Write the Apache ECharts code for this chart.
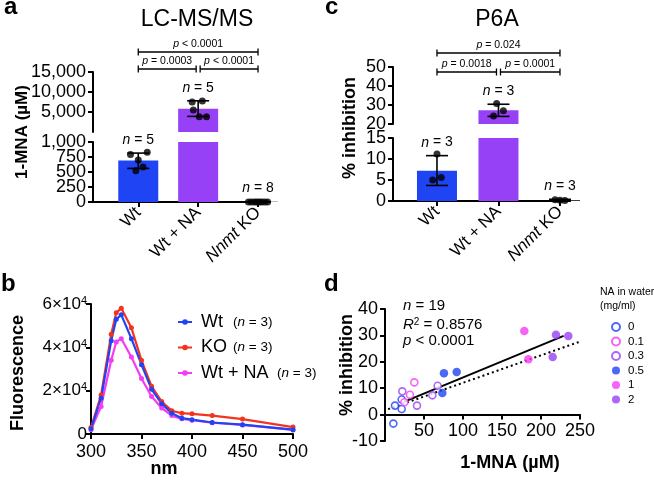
<!DOCTYPE html>
<html><head><meta charset="utf-8">
<script src="https://cdn.jsdelivr.net/npm/echarts@6/dist/echarts.min.js"></script>
<style>html,body{margin:0;padding:0;background:#fff}#c{width:654px;height:482px}</style>
</head><body><div id="c"></div>
<script>
// ---------------- DATA ----------------
const groups = ['Wt', 'Wt + NA', 'Nnmt KO'];
// Panel a : LC-MS/MS (1-MNA, µM)
const lcmsMean = [690, 5800, 5];
const lcmsErrLow = [560, 3900, 0];
const lcmsErrHigh = [815, 7800, 10];
const lcmsN = [5, 5, 8];
const lcmsWt = [790, 830, 585, 520, 700];
const lcmsWtNA = [7500, 7750, 5500, 3800, 3800];
const lcmsKO = [0, 0, 0, 0, 0, 0, 0, 0];
const lcmsP = ['p < 0.0001', 'p = 0.0003', 'p < 0.0001']; // 1-3, 1-2, 2-3
const lcmsLowTicks = [0, 250, 500, 750, 1000];
// Panel c : P6A (% inhibition)
const p6aMean = [7.2, 27.2, 0.2];
const p6aErrLow = [3.7, 24.0, 0.0];
const p6aErrHigh = [10.8, 30.4, 0.4];
const p6aN = [3, 3, 3];
const p6aWt = [11.2, 5.0, 5.6];
const p6aWtNA = [30.8, 27.0, 24.2];
const p6aKO = [0.3, 0.2, 0.1];
const p6aP = ['p = 0.024', 'p = 0.0018', 'p = 0.0001'];
// Panel b : fluorescence spectra
const wavelengths = [300, 310, 320, 325, 330, 340, 350, 360, 370, 380, 390, 400, 420, 450, 500];
const fluorWt = [2400, 16500, 43000, 53000, 55000, 44000, 32000, 20600, 14000, 9600, 7300, 6600, 5300, 4300, 2000];
const fluorKO = [3000, 18000, 46000, 56000, 58000, 49000, 34000, 22000, 15000, 10700, 9600, 9300, 8500, 6900, 3200];
const fluorWtNA = [2000, 12700, 34000, 42500, 44000, 35500, 25600, 17300, 12000, 8500, 7000, 6400, 5200, 4200, 1900];
const fluorNames = ['Wt', 'KO', 'Wt + NA'];
const fluorN = [3, 3, 3];
// Panel d : correlation
const naLevels = ['0', '0.1', '0.3', '0.5', '1', '2'];
const na0 = [[10.7, -3.4], [12.8, 3.4], [21.4, 2.1], [21.4, 5.7]];
const na01 = [[37.6, 12.2], [32.0, 7.5], [24.8, 4.7]];
const na03 = [[22.2, 8.8], [41.0, 3.4], [60.7, 7.3], [67.5, 10.9]];
const na05 = [[75.6, 15.7], [91.9, 16.1], [73.5, 8.2]];
const na1 = [[178.6, 31.7], [183.8, 21.0]];
const na2 = [[219.2, 30.2], [235.0, 29.8], [215.0, 21.8]];
const fitLine = [1.87, 0.122];   // intercept, slope
const fitRange = [25, 229];
const refLine = [1.65, 0.104];
const refRange = [4, 250];
const statN = 19, statR2 = '0.8576', statP = 'p < 0.0001';

// ---------------- STYLE ----------------
const FONT = '"Liberation Sans", Arial, Helvetica, sans-serif';
const BLUE = '#1f44f4', PURPLE = '#9741f6', MAGENTA = '#f43cf4', RED = '#f4331f';
const barColors = [BLUE, PURPLE, '#000'];
const naColors = [BLUE, MAGENTA, PURPLE, BLUE, MAGENTA, PURPLE];
const naHollow = [true, true, true, false, false, false];
const jitA = [[-0.13, 0.15, 0.08, -0.04, 0.0], [-0.1, 0.07, -0.08, 0.02, 0.14], [-0.16, -0.11, -0.06, -0.02, 0.02, 0.06, 0.11, 0.16]];
const jitC = [[0.0, -0.07, 0.07], [-0.03, 0.08, -0.08], [-0.08, 0.0, 0.08]];
const gridD = {left: 385, top: 309, width: 195, height: 132};
const dYMin = -10, dYMax = 40;

const chart = echarts.init(document.getElementById('c'));
const AX = {color: '#000', width: 2};
const groupsRich = groups.map(g => g.replace('Nnmt', '{it|Nnmt}'));
const LBL = {fontSize: 18, color: '#000', fontFamily: FONT, margin: 7, hideOverlap: false, showMinLabel: true, showMaxLabel: true};

function catX(gridIndex, min, max, show) {
  return {
    type: 'value', gridIndex, min, max, show,
    splitLine: {show: false},
    axisLine: {show: show, onZero: false, lineStyle: AX},
    axisTick: {show: show, customValues: [1, 2, 3], length: 5, lineStyle: AX},
    axisLabel: {
      show: show, customValues: [1, 2, 3], rotate: 45, margin: 8, fontSize: 17, color: '#000', fontFamily: FONT, hideOverlap: false,
      formatter: v => groupsRich[Math.round(v) - 1] || '',
      rich: {it: {fontStyle: 'italic', fontSize: 17, fontFamily: FONT}}
    }
  };
}
function valY(gridIndex, min, max, interval, lbl, tickVals, labelVals) {
  const ax = {
    type: 'value', gridIndex, min, max, interval, position: 'left',
    splitLine: {show: false},
    axisLine: {show: true, onZero: false, lineStyle: AX},
    axisTick: {show: true, length: 5, lineStyle: AX},
    axisLabel: Object.assign({}, LBL, lbl || {})
  };
  if (tickVals) ax.axisTick.customValues = tickVals;
  if (labelVals) ax.axisLabel.customValues = labelVals;
  return ax;
}
const comma = v => v.toLocaleString('en-US');

// build bar-panel series
function barPanel(upX, lowX, means, lo, hi, ns, pts, jit, brk) {
  const s = [];
  const barData = (upper) => means.map((m, i) => ({
    value: [i + 1, upper ? (m > brk ? m : null) : m],
    itemStyle: {color: barColors[i]}
  }));
  s.push({type: 'bar', xAxisIndex: upX, yAxisIndex: upX, data: barData(true), barWidth: 40, clip: true, silent: true});
  s.push({type: 'bar', xAxisIndex: lowX, yAxisIndex: lowX, data: barData(false), barWidth: 40, clip: true, silent: true});
  const errRender = (params, api) => {
    const x = api.value(0), l = api.value(1), h = api.value(2), n = api.value(3);
    const a = api.coord([x, l]), b = api.coord([x, h]);
    const w = 11, st = {stroke: '#000', lineWidth: 1.6};
    return {type: 'group', children: [
      {type: 'line', shape: {x1: a[0], y1: a[1], x2: b[0], y2: b[1]}, style: st},
      {type: 'line', shape: {x1: b[0] - w, y1: b[1], x2: b[0] + w, y2: b[1]}, style: st},
      {type: 'line', shape: {x1: a[0] - w, y1: a[1], x2: a[0] + w, y2: a[1]}, style: st},
      {type: 'text', style: {text: '{i|n} = ' + n, x: b[0], y: b[1] - 13, align: 'center', verticalAlign: 'middle',
        font: '14px ' + FONT, fill: '#000', rich: {i: {fontStyle: 'italic', fontSize: 14, fontFamily: FONT}}}}
    ]};
  };
  [true, false].forEach(upper => {
    const d = means.map((m, i) => (hi[i] > brk) === upper ? [i + 1, lo[i], hi[i], ns[i]] : null).filter(Boolean);
    const ax = upper ? upX : lowX;
    s.push({type: 'custom', xAxisIndex: ax, yAxisIndex: ax, renderItem: errRender, data: d, clip: false, z: 5, silent: true});
    const sd = [];
    pts.forEach((arr, i) => arr.forEach((v, k) => { if ((v > brk) === upper) sd.push([i + 1 + jit[i][k], v]); }));
    s.push({type: 'scatter', xAxisIndex: ax, yAxisIndex: ax, data: sd, symbolSize: 7, itemStyle: {color: '#000'}, z: 6, clip: false, silent: true});
  });
  return s;
}

const series = [];
series.push(...barPanel(0, 1, lcmsMean, lcmsErrLow, lcmsErrHigh, lcmsN, [lcmsWt, lcmsWtNA, lcmsKO], jitA, 1000));
series.push(...barPanel(2, 3, p6aMean, p6aErrLow, p6aErrHigh, p6aN, [p6aWt, p6aWtNA, p6aKO], jitC, 15));

// Panel b lines (draw order: KO, Wt+NA, Wt)
const fl = {Wt: [fluorWt, BLUE], KO: [fluorKO, RED], 'Wt + NA': [fluorWtNA, MAGENTA]};
['KO', 'Wt + NA', 'Wt'].forEach(nm => {
  series.push({type: 'line', name: nm, xAxisIndex: 4, yAxisIndex: 4,
    data: wavelengths.map((w, i) => [w, fl[nm][0][i]]),
    symbol: 'circle', symbolSize: 5, showSymbol: true,
    lineStyle: {width: 2.2, color: fl[nm][1]}, itemStyle: {color: fl[nm][1]}, silent: true});
});

// Panel d
series.push({type: 'line', name: 'fit', xAxisIndex: 5, yAxisIndex: 5, symbol: 'none', silent: true, z: 1,
  data: fitRange.map(x => [x, fitLine[0] + fitLine[1] * x]), lineStyle: {color: '#000', width: 2}});
series.push({type: 'line', name: 'ref', xAxisIndex: 5, yAxisIndex: 5, symbol: 'none', silent: true, z: 1,
  data: refRange.map(x => [x, refLine[0] + refLine[1] * x]), lineStyle: {color: '#000', width: 2, type: [2, 3]}});
[na0, na01, na03, na05, na1, na2].forEach((d, i) => {
  series.push({type: 'scatter', name: naLevels[i], xAxisIndex: 5, yAxisIndex: 5, data: d, symbol: 'circle',
    symbolSize: naHollow[i] ? 7 : 8.5, z: 4, silent: true,
    itemStyle: naHollow[i] ? {color: '#fff', borderColor: naColors[i], borderWidth: 1.6} : {color: naColors[i]}});
});

const sup = {a: {fontSize: 17, fontFamily: FONT, lineHeight: 18}, s: {fontSize: 11, fontFamily: FONT, verticalAlign: 'top', lineHeight: 18}};
// x axis of panel d sits on y = 0
const dZeroOffset = -gridD.height * (0 - dYMin) / (dYMax - dYMin);
// lower LC-MS axis labels are tightly packed: split over two label layers
const lowEven = lcmsLowTicks.filter((v, i) => i % 2 === 0);
const lowOdd = lcmsLowTicks.filter((v, i) => i % 2 === 1);
const lowOddAxis = valY(1, 0, 1000, 250, {formatter: comma}, null, lowOdd);
lowOddAxis.axisLine.show = false; lowOddAxis.axisTick.show = false; lowOddAxis.offset = 0;

const option = {
  animation: false,
  backgroundColor: '#fff',
  textStyle: {fontFamily: FONT},
  grid: [
    {left: 93, top: 72, width: 177, height: 60},
    {left: 93, top: 142, width: 177, height: 60},
    {left: 393, top: 67, width: 177, height: 57},
    {left: 393, top: 138, width: 177, height: 63},
    {left: 91, top: 304, width: 202, height: 130},
    gridD
  ],
  xAxis: [
    catX(0, 0.244, 3.2, false),
    catX(1, 0.244, 3.2, true),
    catX(2, 0.285, 3.163, false),
    catX(3, 0.285, 3.163, true),
    {type: 'value', gridIndex: 4, min: 300, max: 500, interval: 50, splitLine: {show: false},
      axisLine: {onZero: false, lineStyle: AX}, axisTick: {length: 5, lineStyle: AX},
      axisLabel: Object.assign({}, LBL, {margin: 9})},
    {type: 'value', gridIndex: 5, min: 0, max: 250, interval: 50, splitLine: {show: false}, offset: dZeroOffset,
      axisLine: {onZero: false, lineStyle: AX}, axisTick: {length: 5, lineStyle: AX},
      axisLabel: Object.assign({}, LBL, {margin: 7, showMinLabel: false})}
  ],
  yAxis: [
    valY(0, 0, 15000, 5000, {showMinLabel: false, formatter: comma}),
    valY(1, 0, 1000, 250, {formatter: comma}, lcmsLowTicks, lowEven),
    valY(2, 20, 50, 10),
    valY(3, 0, 15, 5),
    valY(4, 0, 60000, 20000, {margin: 4, rich: sup,
      formatter: v => v === 0 ? '{a|0}' : '{a|' + (v / 10000) + '×10}{s|4}'}),
    valY(5, dYMin, dYMax, 10),
    lowOddAxis
  ],
  legend: [
    {data: fluorNames, left: 177, top: 313, orient: 'vertical', padding: 0, itemGap: 7.5,
      itemWidth: 14, itemHeight: 7, selectedMode: false,
      formatter: nm => '{' + (nm.length > 3 ? 'tw' : 't') + '|' + nm + '}{q|(}{i|n}{q| = ' + fluorN[fluorNames.indexOf(nm)] + ')}',
      textStyle: {fontSize: 18, color: '#000', fontFamily: FONT, padding: [0, 0, 0, 4],
        rich: {t: {width: 32, fontSize: 18, lineHeight: 18}, tw: {width: 76, fontSize: 18, lineHeight: 18},
          q: {fontSize: 13.5}, i: {fontSize: 13.5, fontStyle: 'italic'}}}},
    {data: naLevels, left: 611, top: 321, orient: 'vertical', padding: 0, itemGap: 2.5,
      itemWidth: 8, itemHeight: 8, icon: 'circle', selectedMode: false,
      textStyle: {fontSize: 11.5, color: '#000', fontFamily: FONT, lineHeight: 12, padding: [0, 0, 0, 3]}}
  ],
  series
};
chart.setOption(option);

// ------------- annotations (text + significance brackets) -------------
const els = [];
function txt(x, y, text, size, opts) {
  els.push(Object.assign({type: 'text', x, y, style: Object.assign({text, fill: '#000',
    font: (opts && opts.bold ? 'bold ' : '') + size + 'px ' + FONT,
    align: 'center', verticalAlign: 'middle'}, opts && opts.style || {})}, opts && opts.el || {}));
}
// panel letters (top-anchored)
const TOP = {align: 'left', verticalAlign: 'top'};
txt(4, -5, 'a', 24, {bold: true, style: TOP});
txt(325, -5, 'c', 24, {bold: true, style: TOP});
txt(1, 272, 'b', 24, {bold: true, style: TOP});
txt(324, 272, 'd', 24, {bold: true, style: TOP});
// titles
txt(197, 8, 'LC-MS/MS', 23, {style: {verticalAlign: 'top'}});
txt(497, 8, 'P6A', 23, {style: {verticalAlign: 'top'}});
// axis names
txt(0, 0, '1-MNA (µM)', 17, {bold: true, el: {x: 22, y: 132, rotation: Math.PI / 2}});
txt(0, 0, '% inhibition', 18, {bold: true, el: {x: 350, y: 128, rotation: Math.PI / 2}});
txt(0, 0, 'Fluorescence', 18, {bold: true, el: {x: 18, y: 373, rotation: Math.PI / 2}});
txt(164, 469, 'nm', 18, {bold: true});
txt(0, 0, '% inhibition', 18, {bold: true, el: {x: 347, y: 365, rotation: Math.PI / 2}});
txt(510, 463, '1-MNA (µM)', 18, {bold: true});
// panel d stats
const it = {i: {fontStyle: 'italic', fontSize: 15, fontFamily: FONT}, s: {fontSize: 10, fontFamily: FONT, verticalAlign: 'top', lineHeight: 16}, r: {fontSize: 15, fontFamily: FONT, lineHeight: 16}};
txt(403, 306, '{i|n} = ' + statN, 15, {style: {align: 'left', rich: it}});
txt(403, 325, '{i|R}{s|2}{r| = ' + statR2 + '}', 15, {style: {align: 'left', rich: it}});
txt(403, 341, statP.replace(/^p/, '{i|p}'), 15, {style: {align: 'left', rich: it}});
// legend title panel d
txt(600, 292, 'NA in water', 10.5, {style: {align: 'left'}});
txt(600, 306, '(mg/ml)', 10.5, {style: {align: 'left'}});

// brackets
function brackets(gridIndex, pTexts, yTop, yLow) {
  const X = i => chart.convertToPixel({gridIndex}, [i, 0])[0];
  const pRich = {i: {fontStyle: 'italic', fontSize: 10.5, fontFamily: FONT}};
  const segs = [[X(1), X(3), yTop, pTexts[0]], [X(1), X(2) - 2, yLow, pTexts[1]], [X(2) + 2, X(3), yLow, pTexts[2]]];
  segs.forEach(([a, b, y, t]) => {
    const st = {stroke: '#000', lineWidth: 1.3};
    els.push({type: 'line', shape: {x1: a, y1: y, x2: b, y2: y}, style: st});
    els.push({type: 'line', shape: {x1: a, y1: y - 3.5, x2: a, y2: y + 3.5}, style: st});
    els.push({type: 'line', shape: {x1: b, y1: y - 3.5, x2: b, y2: y + 3.5}, style: st});
    txt((a + b) / 2, y - 7.5, t.replace(/^p/, '{i|p}'), 10.5, {style: {rich: pRich}});
  });
}
brackets(0, lcmsP, 52, 69);
brackets(2, p6aP, 53, 72);

chart.setOption({graphic: {elements: els}});
</script></body></html>
